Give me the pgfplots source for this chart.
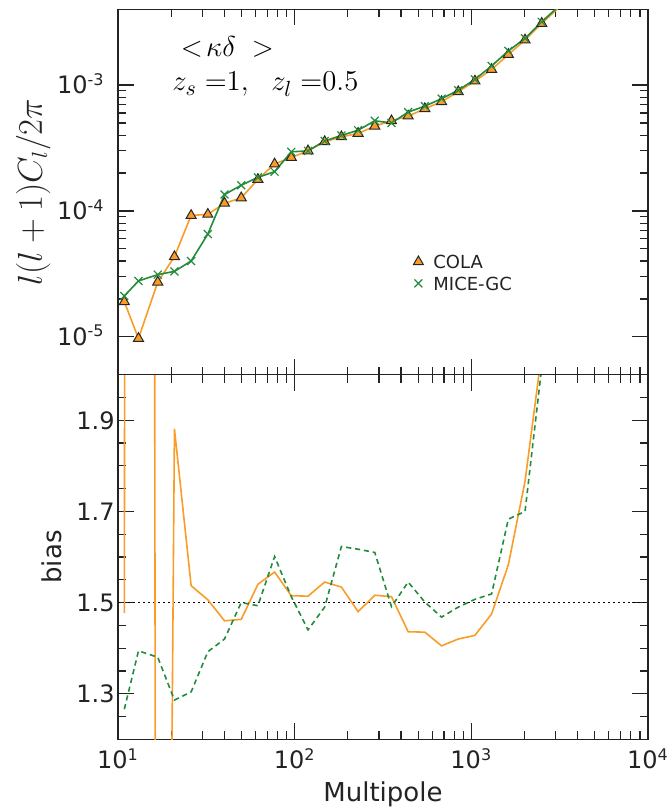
\documentclass[border=0pt]{standalone}
\usepackage{fontspec}
\setmainfont{DejaVu Sans}
\usepackage{pgfplots}
\pgfplotsset{compat=1.18}
\definecolor{colaor}{RGB}{250,156,40}
\definecolor{micegr}{RGB}{35,140,60}
\definecolor{axgray}{RGB}{35,35,35}

\begin{document}
\begin{tikzpicture}
% bottom panel
\begin{axis}[
  xmode=log, xmin=10, xmax=10000,
  scale only axis, width=265pt,
  at={(0pt,0pt)}, anchor=south west,
  height=182.3pt,
  xtick={10,100,1000,10000},
  axis line style={axgray, line width=0.75pt},
  every tick/.style={axgray, line width=0.6pt},
  major tick length=8pt, minor tick length=4pt,
  tick align=inside,
  xtick pos=both, ytick pos=both,
  tick label style={font=\fontsize{12}{14}\selectfont, text=axgray},
  label style={font=\fontsize{13}{15}\selectfont, text=axgray},
  ymin=1.2, ymax=2.0,
  ytick={1.3,1.5,1.7,1.9},
  yticklabels={1.3,1.5,1.7,1.9},
  minor ytick={1.2,1.25,1.35,1.4,1.45,1.55,1.6,1.65,1.75,1.8,1.85,1.95,2.0},
  xticklabels={10\textsuperscript{1},10\textsuperscript{2},10\textsuperscript{3},10\textsuperscript{4}},
  xticklabel style={anchor=base, yshift=-14.85pt},
  yticklabel style={anchor=base east, inner sep=0pt, xshift=-1.5pt, yshift=-4.4pt},
  xlabel={Multipole},
  xlabel style={at={(axis description cs:0.5,0)}, anchor=base, yshift=-31.2pt},
  ylabel={bias},
  ylabel style={at={(axis description cs:-0.1255,0.5)}, anchor=center},
]
\addplot[black, dash pattern=on 0.8pt off 1.7pt, line width=0.8pt, forget plot] coordinates {(10,1.5) (10000,1.5)};
\addplot[colaor, line width=0.8pt] coordinates {
(10.86,1.477) (13.06,27.5) (16.79,-2.8) (20.87,1.881) (25.94,1.537) (32.25,1.506)
(40.09,1.460) (49.83,1.463) (61.94,1.540) (77.0,1.567) (95.7,1.515) (119.0,1.514)
(147.9,1.545) (183.9,1.534) (228.6,1.480) (284.1,1.516) (353.2,1.513) (439.0,1.436)
(545.8,1.435) (678.5,1.405) (843.4,1.420) (1048,1.428) (1303,1.475) (1620,1.583)
(2014,1.766) (2503,2.048)
};
\addplot[micegr, dash pattern=on 2.6pt off 1.9pt, line width=0.8pt] coordinates {
(10.86,1.266) (13.06,1.394) (16.79,1.380) (20.87,1.286) (25.94,1.304) (32.25,1.392)
(40.09,1.420) (49.83,1.500) (61.94,1.493) (77.0,1.601) (95.7,1.513) (119.0,1.440)
(147.9,1.490) (183.9,1.623) (228.6,1.617) (284.1,1.610) (353.2,1.491) (439.0,1.545)
(545.8,1.501) (678.5,1.468) (843.4,1.490) (1048,1.507) (1303,1.519) (1620,1.683)
(2014,1.700) (2503,2.016)
};
\end{axis}

% top panel
\begin{axis}[
  xmode=log, ymode=log, xmin=10, xmax=10000,
  scale only axis, width=265pt,
  at={(0pt,182.3pt)}, anchor=south west,
  height=182.7pt,
  xtick={10,100,1000,10000},
  axis line style={axgray, line width=0.75pt},
  every tick/.style={axgray, line width=0.6pt},
  major tick length=8pt, minor tick length=4pt,
  tick align=inside,
  xtick pos=both, ytick pos=both,
  tick label style={font=\fontsize{12}{14}\selectfont, text=axgray},
  label style={font=\fontsize{13}{15}\selectfont, text=axgray},
  ymin=5e-6, ymax=4e-3,
  ytick={1e-5,1e-4,1e-3},
  yticklabels={10\textsuperscript{-5},10\textsuperscript{-4},10\textsuperscript{-3}},
  xticklabels={},
  yticklabel style={anchor=base east, inner sep=0pt, xshift=-6.5pt, yshift=-4.4pt},
  ylabel={$l(l+1)C_l/2\pi$},
  ylabel style={at={(axis description cs:-0.160,0.5)}, anchor=center, font=\fontsize{16}{19}\selectfont},
  legend style={draw=none, fill=none, inner sep=0pt, outer sep=0pt,
    at={(rel axis cs:0.557,0.327)}, anchor=north west,
    font=\fontsize{9}{10.8}\selectfont, text=axgray,
    nodes={inner sep=0pt, text height=6.6pt, text depth=0pt},
    row sep=4.2pt},
  legend cell align=left,
  legend image code/.code={\draw[#1] plot[only marks] coordinates {(0pt,0pt)}; \path[draw=none,fill=none] (-2.6pt,0pt) -- (7.5pt,0pt);},
]
\addplot[colaor, line width=0.8pt, mark=triangle*, mark size=2.9pt,
  mark options={fill=colaor, draw=black!85, line width=0.5pt}] coordinates {
(10.86,1.90e-5) (13.06,9.7e-6) (16.79,2.72e-5) (20.87,4.33e-5) (25.94,9.2e-5) (32.25,9.4e-5)
(40.09,1.15e-4) (49.83,1.27e-4) (61.94,1.78e-4) (77.0,2.36e-4) (95.7,2.66e-4) (119.0,3.0e-4)
(147.9,3.55e-4) (183.9,3.88e-4) (228.6,4.13e-4) (284.1,4.72e-4) (353.2,5.2e-4) (439.0,5.67e-4)
(545.8,6.49e-4) (678.5,7.38e-4) (843.4,8.85e-4) (1048,1.076e-3) (1303,1.33e-3) (1620,1.75e-3)
(2014,2.28e-3) (2503,3.09e-3) (3112,4.1e-3)
};
\addlegendentry{COLA}
\addplot[micegr, line width=0.8pt, mark=x, mark size=2.8pt, mark options={line width=0.6pt}] coordinates {
(10.86,2.11e-5) (13.06,2.78e-5) (16.79,3.12e-5) (20.87,3.31e-5) (25.94,4.0e-5) (32.25,6.55e-5)
(40.09,1.35e-4) (49.83,1.6e-4) (61.94,1.85e-4) (77.0,2.05e-4) (95.7,2.95e-4) (119.0,3.0e-4)
(147.9,3.6e-4) (183.9,3.98e-4) (228.6,4.38e-4) (284.1,5.2e-4) (353.2,5.0e-4) (439.0,6.1e-4)
(545.8,6.8e-4) (678.5,7.8e-4) (843.4,9.1e-4) (1048,1.11e-3) (1303,1.42e-3) (1620,1.87e-3)
(2014,2.35e-3) (2503,3.18e-3) (3112,4.2e-3)
};
\addlegendentry{MICE-GC}
\node[anchor=base west, inner sep=0pt, font=\fontsize{15}{18}\selectfont] at (rel axis cs:0.118,0.872) {$<\!\kappa\delta\;>$};
\node[anchor=base west, inner sep=0pt, font=\fontsize{15.5}{18}\selectfont] at (rel axis cs:0.102,0.777) {$z_s\;{=}1,\;\ z_l\;{=}0.5$};
\end{axis}
\pgfresetboundingbox
\path[use as bounding box] (-59pt,-35.35pt) rectangle (274.5pt,369.65pt);
\end{tikzpicture}
\end{document}
